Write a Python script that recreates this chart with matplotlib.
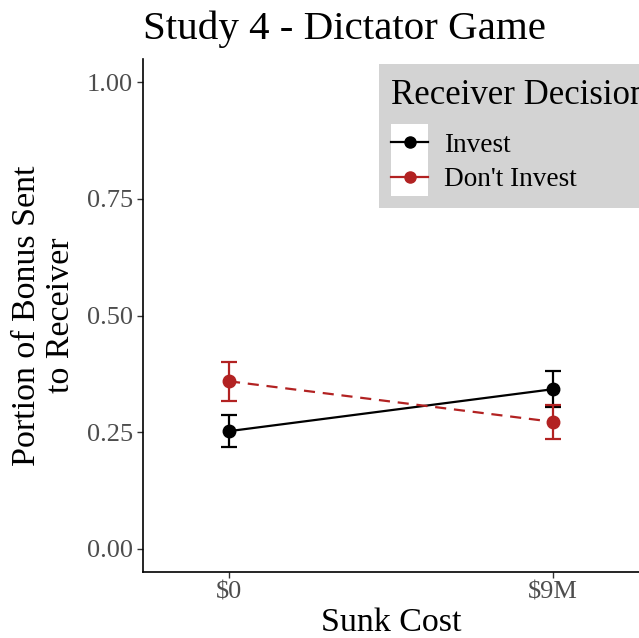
import matplotlib
matplotlib.use("Agg")
import matplotlib.pyplot as plt
from matplotlib.lines import Line2D
from matplotlib.patches import Rectangle
from matplotlib.legend_handler import HandlerLine2D

# data
sunk_cost = ["$0", "$9M"]
groups = ["Invest", "Don't Invest"]
invest_mean = [0.252, 0.342]
invest_lo = [0.218, 0.303]
invest_hi = [0.286, 0.381]
dont_mean = [0.359, 0.272]
dont_lo = [0.316, 0.236]
dont_hi = [0.400, 0.308]
y_ticks = [0.0, 0.25, 0.5, 0.75, 1.0]

plt.rcParams["font.family"] = ["Liberation Serif", "DejaVu Serif"]


class KeyHandler(HandlerLine2D):
    # ggplot style legend key: white square behind the line + point
    def create_artists(self, legend, orig_handle, xdescent, ydescent,
                       width, height, fontsize, trans):
        arts = super().create_artists(legend, orig_handle, xdescent, ydescent,
                                      width, height, fontsize, trans)
        yc = (height - ydescent) / 2
        side = 26.8  # points (~37 px)
        key = Rectangle((-xdescent, yc - side / 2), width, side,
                        facecolor="white", edgecolor="none", transform=trans)
        return [key] + arts


fig = plt.figure(figsize=(6.39, 6.38), dpi=100)
ax = fig.add_axes([143 / 639, 1 - 572 / 638, 1 - 143 / 639, (572 - 59) / 638])

x = [1, 2]
styles = [
    (invest_mean, invest_lo, invest_hi, "black", "-"),
    (dont_mean, dont_lo, dont_hi, "#B22222", (0, (5, 3.5))),
]
handles = []
for mean, lo, hi, col, ls in styles:
    yerr = [[m - l for m, l in zip(mean, lo)], [h - m for m, h in zip(mean, hi)]]
    ax.errorbar(x, mean, yerr=yerr, fmt="none", ecolor=col, elinewidth=1.6,
                capsize=6, capthick=1.6, zorder=3)
    ax.plot(x, mean, color=col, ls=ls, lw=1.6, zorder=2)
    ax.plot(x, mean, "o", color=col, ms=9, zorder=4)
    handles.append(Line2D([], [], color=col, lw=1.6, marker="o", ms=8))

ax.set_xlim(1 - 86 / 324, 2 + 86 / 324)
ax.set_ylim(-0.05, 1.05)
ax.set_xticks(x)
ax.set_xticklabels(sunk_cost)
ax.set_yticks(y_ticks)
ax.set_yticklabels([f"{v:.2f}" for v in y_ticks])
ax.tick_params(labelsize=19, labelcolor="#4D4D4D", color="#333333", length=4, width=1, pad=3)
for s in ["top", "right"]:
    ax.spines[s].set_visible(False)
for s in ["left", "bottom"]:
    ax.spines[s].set_linewidth(1.2)

ax.set_xlabel("Sunk Cost", fontsize=24.5, labelpad=3)
ax.set_ylabel("Portion of Bonus Sent\nto Receiver", fontsize=24.5, labelpad=8, linespacing=1.17)
fig.text(143 / 639, 1 - 39 / 638, "Study 4 - Dictator Game", fontsize=29.5,
         va="baseline", ha="left")

# legend background (runs past the right edge like the reference)
ax.add_patch(Rectangle((379 / 639, 1 - 208 / 638), 300 / 639, 144 / 638,
                       transform=fig.transFigure, facecolor="#D3D3D3",
                       edgecolor="none", clip_on=False, zorder=4.5))
leg = ax.legend(handles, groups, handler_map={Line2D: KeyHandler()},
                title="Receiver Decision", title_fontsize=25, fontsize=19.6,
                loc="upper left", bbox_to_anchor=(391 / 639, 1 - 79 / 638),
                bbox_transform=fig.transFigure, frameon=False,
                labelspacing=0.35, handlelength=1.36,
                handletextpad=0.6, borderpad=0, borderaxespad=0)
leg._legend_box.align = "left"
leg._legend_box.sep = 15

fig.savefig("out.png", dpi=100)
